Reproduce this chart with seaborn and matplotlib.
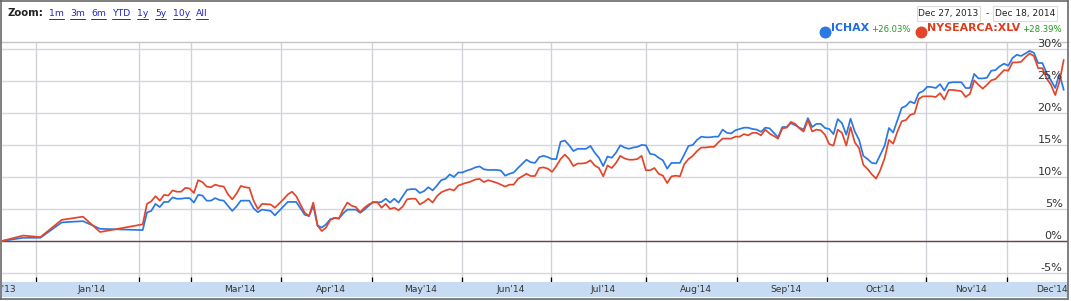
import matplotlib
matplotlib.use("Agg")
import matplotlib.pyplot as plt
import matplotlib.transforms as mtransforms
from matplotlib.lines import Line2D
from matplotlib.patches import Rectangle
import numpy as np
import pandas as pd
import seaborn as sns

# ---------------- data (trading-session index, % change) ----------------
session = [0, 5, 9, 14, 19, 23, 33, 34, 35, 36, 37, 38, 39, 40, 41, 42, 43, 44, 45, 46,
           47, 48, 49, 50, 51, 52, 53, 54, 55, 56, 57, 58, 59, 60, 61, 63, 64, 66, 67, 68,
           69, 71, 72, 73, 74, 75, 76, 77, 78, 79, 80, 81, 82, 83, 84, 85, 86, 87, 88, 89,
           90, 91, 92, 93, 94, 95, 96, 97, 98, 99, 100, 101, 102, 103, 104, 105, 106, 107, 108, 109,
           110, 111, 112, 113, 114, 116, 117, 118, 119, 120, 121, 123, 124, 125, 126, 127, 128, 129, 130, 131,
           132, 133, 134, 135, 136, 137, 138, 139, 140, 141, 142, 143, 144, 145, 146, 147, 148, 149, 150, 151,
           152, 153, 154, 155, 156, 157, 158, 159, 160, 161, 162, 163, 164, 165, 166, 167, 168, 169, 170, 171,
           172, 173, 174, 175, 176, 177, 178, 179, 180, 181, 182, 183, 184, 185, 186, 187, 188, 189, 190, 191,
           192, 193, 194, 195, 196, 197, 198, 199, 200, 201, 202, 203, 204, 205, 206, 207, 208, 209, 210, 211,
           212, 213, 214, 215, 216, 217, 218, 219, 220, 221, 222, 223, 224, 225, 226, 227, 228, 229, 230, 231,
           232, 233, 234, 235, 236, 237, 238, 239, 240, 241, 242, 243, 244, 245, 246, 247, 248, 249]

ichax = [0.0, 0.5, 0.5, 2.9, 3.1, 1.9, 1.7, 4.45, 4.7, 5.8, 5.3, 6.1, 6.1, 6.8, 6.6, 6.6, 6.7, 6.7, 6.0, 7.2,
         7.1, 6.3, 6.3, 6.7, 6.4, 6.3, 5.5, 4.7, 5.4, 6.3, 6.3, 6.3, 5.1, 4.5, 4.9, 4.7, 4.0, 5.4, 6.1, 6.1,
         6.1, 4.1, 3.9, 5.5, 2.4, 2.1, 2.6, 3.4, 3.6, 3.5, 4.3, 4.9, 4.9, 4.9, 4.4, 4.9, 5.5, 6.1, 6.0, 6.1,
         6.6, 6.0, 6.6, 6.0, 7.0, 8.0, 8.1, 8.1, 7.5, 7.8, 8.4, 7.9, 8.65, 9.5, 9.7, 10.4, 10.0, 10.7, 10.7, 11.0,
         11.2, 11.5, 11.65, 11.2, 11.1, 11.1, 11.0, 10.2, 10.5, 10.7, 11.4, 12.7, 12.3, 12.2, 13.1, 13.3, 13.1, 12.8, 12.8, 15.5,
         15.7, 14.95, 14.05, 14.4, 14.4, 14.4, 14.85, 13.8, 13.0, 11.7, 13.2, 13.0, 13.8, 14.95, 14.6, 14.4, 14.6, 14.7, 15.0, 14.95,
         13.6, 13.5, 13.0, 12.6, 11.3, 12.2, 12.2, 12.2, 13.5, 14.85, 15.0, 15.8, 16.3, 16.2, 16.2, 16.3, 16.3, 17.4, 16.9, 16.8,
         17.3, 17.5, 17.7, 17.7, 17.5, 17.4, 17.05, 17.7, 17.6, 16.9, 16.2, 17.8, 17.8, 18.4, 18.1, 17.7, 17.4, 19.2, 17.8, 18.3,
         18.3, 17.65, 17.5, 16.7, 19.05, 18.4, 16.6, 19.1, 17.1, 15.8, 13.3, 12.8, 12.2, 12.1, 13.5, 14.9, 17.65, 16.95, 18.9, 20.8,
         21.1, 21.8, 21.5, 23.1, 23.4, 24.1, 24.05, 23.9, 24.5, 23.5, 24.7, 24.8, 24.8, 24.8, 23.9, 23.9, 26.1, 25.4, 25.4, 25.5,
         26.6, 26.7, 27.3, 27.7, 27.4, 28.6, 29.1, 28.9, 29.3, 29.7, 29.4, 27.8, 27.8, 26.2, 25.1, 23.9, 26.1, 23.6]

xlv = [0.0, 0.85, 0.6, 3.3, 3.8, 1.4, 2.6, 5.8, 6.2, 7.0, 6.3, 7.2, 7.1, 7.9, 7.7, 7.7, 8.3, 8.2, 7.5, 9.5,
       9.2, 8.5, 8.4, 8.8, 8.6, 8.5, 7.3, 6.5, 7.4, 8.6, 8.4, 8.3, 6.3, 5.0, 5.8, 5.7, 5.2, 6.5, 7.25, 7.7,
       7.0, 4.4, 3.9, 6.0, 2.4, 1.55, 2.1, 3.3, 3.6, 3.5, 4.9, 6.0, 5.5, 5.3, 4.5, 5.2, 5.7, 6.0, 6.1, 5.2,
       5.8, 5.0, 5.2, 4.8, 5.4, 6.5, 6.6, 6.6, 5.7, 6.1, 6.6, 6.0, 7.0, 7.6, 7.9, 8.1, 7.9, 8.65, 8.9, 9.1,
       9.3, 9.6, 9.7, 9.2, 9.5, 9.1, 8.8, 8.5, 8.8, 8.8, 9.7, 10.5, 10.15, 10.15, 11.4, 11.5, 11.3, 10.8, 11.7, 12.8,
       13.5, 12.8, 11.7, 12.1, 12.1, 12.2, 12.6, 11.8, 11.4, 10.1, 11.8, 11.4, 12.2, 13.3, 12.9, 12.7, 12.7, 12.8, 13.3, 11.05,
       11.05, 11.4, 10.5, 10.2, 9.05, 10.1, 10.2, 10.1, 12.0, 12.8, 13.3, 14.05, 14.6, 14.6, 14.7, 14.7, 15.4, 16.0, 16.0, 16.0,
       16.3, 16.3, 16.7, 16.5, 16.9, 16.9, 16.5, 17.4, 16.8, 16.4, 16.0, 17.6, 17.7, 18.6, 18.3, 17.6, 17.1, 18.9, 17.1, 17.4,
       17.3, 16.6, 15.15, 14.9, 17.4, 16.9, 14.9, 17.8, 15.4, 14.5, 11.9, 11.25, 10.4, 9.75, 11.1, 12.95, 15.8, 15.2, 17.1, 18.7,
       18.9, 19.7, 19.9, 22.2, 22.6, 22.6, 22.6, 22.5, 23.1, 22.1, 23.6, 23.6, 23.5, 23.4, 22.5, 23.0, 25.1, 24.4, 23.8, 24.4,
       25.1, 25.3, 26.0, 26.7, 26.6, 27.9, 27.9, 28.0, 28.7, 29.3, 28.9, 27.0, 27.0, 25.4, 24.4, 22.8, 24.9, 28.3]

series_names = ["ICHAX", "NYSEARCA:XLV"]
series_change = ["+26.03%", "+28.39%"]
month_ticks = [8.0, 32.1, 44.3, 65.5, 86.7, 107.8, 128.8, 151.0, 172.4, 193.5, 216.7, 235.7]
month_labels = ["Jan'14", "", "Mar'14", "Apr'14", "May'14", "Jun'14", "Jul'14",
                "Aug'14", "Sep'14", "Oct'14", "Nov'14", "Dec'14"]
first_label = "Dec'13"
y_ticks = [-5, 0, 5, 10, 15, 20, 25, 30]
zoom_links = ["1m", "3m", "6m", "YTD", "1y", "5y", "10y", "All"]
date_from = "Dec 27, 2013"
date_to = "Dec 18, 2014"

# ---------------- style ----------------
BLUE = "#2a78e4"
RED = "#e2462a"
BLUE_TXT = "#1f6ee0"
RED_TXT = "#dd3f1e"
GREEN = "#1e9a1e"
BAND = "#c7dcf3"
HGRID = "#d5d5e3"
VGRID = "#cfd3d7"
ZERO = "#6e4646"
TXT = "#333333"
FRAME = "#6a6a6a"

W, H = 1071, 301
sns.set_theme(style="white")
plt.rcParams["font.family"] = ["DejaVu Sans"]

fig = plt.figure(figsize=(W / 100, H / 100), dpi=100)
fig.patch.set_facecolor("white")


def fx(px):
    return px / W


def fy(py):
    return 1 - py / H


# main plot
ax = fig.add_axes([fx(2), fy(282), (1068 - 2) / W, (282 - 42) / H])
df = pd.DataFrame({
    "session": session * 2,
    "pct": ichax + xlv,
    "series": [series_names[0]] * len(session) + [series_names[1]] * len(session),
})
sns.lineplot(data=df, x="session", y="pct", hue="series",
             palette={series_names[0]: BLUE, series_names[1]: RED},
             linewidth=1.25, legend=False, ax=ax, zorder=5)

ax.set_xlim(0, 250)
ax.set_ylim(-6.41, 31.09)
ax.set_xlabel("")
ax.set_ylabel("")
ax.set_yticks(y_ticks)
ax.set_xticks(month_ticks)
ax.tick_params(axis="x", direction="in", length=3.8, width=0.9, colors="black",
               labelbottom=False, bottom=True, pad=0)
ax.tick_params(axis="y", left=False, right=False, labelleft=False)
ax.grid(axis="y", color=HGRID, linewidth=1.0, zorder=0)
ax.grid(axis="x", color=VGRID, linewidth=1.0, zorder=0)
ax.axhline(0, color=ZERO, linewidth=1.0, zorder=3)
for s in ["left", "right", "bottom"]:
    ax.spines[s].set_visible(False)
ax.spines["top"].set_color("#c4c4c4")
ax.spines["top"].set_linewidth(1.0)

ytrans = mtransforms.offset_copy(
    mtransforms.blended_transform_factory(ax.transAxes, ax.transData),
    fig=fig, x=0, y=5, units="dots")
for v in y_ticks:
    ax.text((1062.5 - 2) / 1066, v, f"{v}%", transform=ytrans, ha="right", va="center",
            fontsize=8.1, color=TXT, zorder=6)

# date band
band = fig.add_axes([fx(2), fy(297), (1068 - 2) / W, 15 / H])
band.set_facecolor(BAND)
band.set_xlim(ax.get_xlim())
band.set_ylim(0, 1)
band.set_xticks([])
band.set_yticks([])
for s in band.spines.values():
    s.set_visible(False)
label_pos = [(a + b) / 2 + 1 for a, b in zip(month_ticks[:-1], month_ticks[1:])]
label_pos.append(month_ticks[-1] + 10.5)
label_pos = [month_ticks[0] - 8.5] + label_pos
for pos, lab in zip(label_pos, [first_label] + month_labels):
    if lab:
        band.text(pos, 0.5, lab, ha="center", va="center", fontsize=6.6,
                  color=TXT, clip_on=True)

# header: zoom links
fig.text(fx(7), fy(13.5), "Zoom:", fontsize=7.3, fontweight="bold", color="#222222",
         ha="left", va="center")
link_x = [49, 70, 91, 112, 137, 155, 173, 196]
link_texts = []
for lx, lab in zip(link_x, zoom_links):
    link_texts.append(fig.text(fx(lx), fy(13.5), lab, fontsize=6.7, color="#2626c4",
                               ha="left", va="center"))

# date range boxes
for (x0, x1), txt in zip([(917, 980), (993, 1057)], [date_from, date_to]):
    fig.add_artist(Rectangle((fx(x0), fy(21)), (x1 - x0) / W, 15 / H,
                             transform=fig.transFigure, facecolor="white",
                             edgecolor="#dcdcdc", linewidth=0.8))
    fig.text(fx((x0 + x1) / 2), fy(13.5), txt, fontsize=6.5, color="#222222",
             ha="center", va="center")
fig.text(fx(987), fy(13.5), "-", fontsize=6.5, color="#222222", ha="center", va="center")

# legend
leg_items = [(825, 831, 871, BLUE, BLUE_TXT), (921, 927, 1022, RED, RED_TXT)]
for (dx, nx, cx, dc, tc), name, chg in zip(leg_items, series_names, series_change):
    fig.add_artist(Line2D([fx(dx)], [fy(31.5)], marker="o", markersize=7.6,
                          color=dc, linestyle="none", transform=fig.transFigure))
    fig.text(fx(nx), fy(28), name, fontsize=7.9, fontweight="bold", color=tc,
             ha="left", va="center")
    fig.text(fx(cx), fy(30), chg, fontsize=6.1, color=GREEN, ha="left", va="center")

# outer frame
for xs, ys in [([0.5, 0.5], [0, 298.5]), ([0, 1067.5], [0.5, 0.5]),
               ([1067.5, 1067.5], [0, 298.5]), ([0, 1067.5], [298.5, 298.5])]:
    fig.add_artist(Line2D([fx(v) for v in xs], [fy(v) for v in ys], color=FRAME,
                          linewidth=1.2, transform=fig.transFigure))

# underline zoom links
fig.canvas.draw()
r = fig.canvas.get_renderer()
for t in link_texts:
    bb = t.get_window_extent(r)
    fig.add_artist(Line2D([bb.x0 / W, bb.x1 / W], [fy(18.5), fy(18.5)], color="#2626c4",
                          linewidth=0.7, transform=fig.transFigure))

fig.savefig("out.png", dpi=100)
